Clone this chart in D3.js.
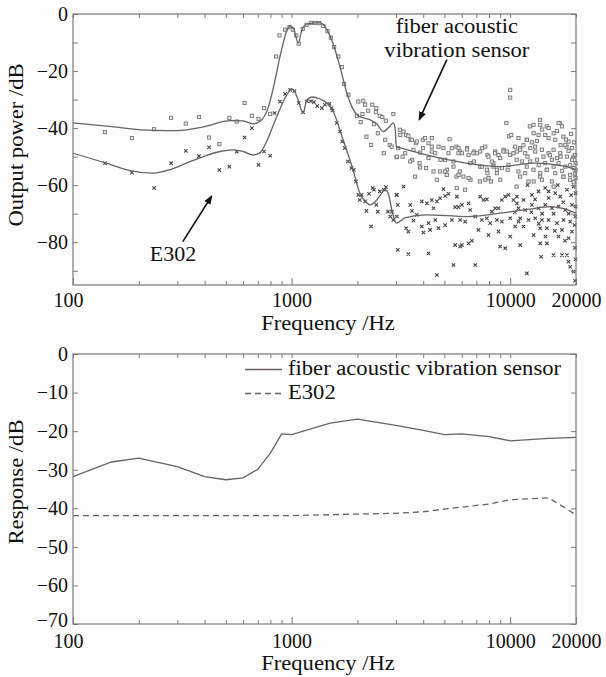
<!DOCTYPE html>
<html lang="en">
<head>
<meta charset="UTF-8" />
<title>Frequency response</title>
<style>
  body { margin: 0; background: #fdfdfd; }
  svg { display: block; }
  text { font-family: "Liberation Serif", "Times New Roman", serif; }
  .frame { fill: none; stroke: #7d7878; stroke-width: 1.2; }
  .tick line { stroke: #7d7878; stroke-width: 1; }
  .domain { display: none; }
  .tick text { font-size: 20px; fill: #111; font-family: "Liberation Serif", serif; }
  .fit { fill: none; stroke: #6a6262; stroke-width: 1.3; }
  .lbl { font-size: 20px; fill: #111; }
</style>
</head>
<body>
<div id="container"></div>
<script src="https://cdnjs.cloudflare.com/ajax/libs/d3/7.8.5/d3.min.js"></script>
<script>
// tick values
const freqTicks = [100, 1000, 10000, 20000];
const freqMinor = [200, 300, 400, 500, 600, 700, 800, 900, 2000, 3000, 4000, 5000, 6000, 7000, 8000, 9000];
const powerTicks = [0, -20, -40, -60, -80];
const powerMinor = [-10, -30, -50, -70, -90];
const respTicks = [0, -10, -20, -30, -40, -50, -60, -70];

// top chart: fitted curves [Hz, dB]
const fiberFit = [[100,-38.2],[150,-39.5],[232,-40.8],[300,-40.9],[400,-39.5],[524,-37.4],[600,-37.5],[667,-38.5],[720,-37.5],[780,-33],[821,-26.6],[900,-12.5],[950,-6],[984,-4.3],[1020,-5],[1073,-10.2],[1110,-6],[1170,-3.6],[1239,-3.2],[1330,-3.0],[1400,-3.8],[1450,-5.5],[1550,-10.5],[1663,-18.4],[1790,-27.7],[1900,-33],[1990,-35.3],[2150,-36.5],[2290,-37.1],[2450,-38.5],[2630,-41.2],[2800,-39.5],[2920,-38.2],[2980,-40.5],[3010,-46.5],[3240,-47.2],[4460,-50],[6000,-52],[9000,-53.5],[12800,-52.3],[16000,-52.8],[18100,-53.5],[20000,-54.6]];
const e302Fit = [[100,-48.8],[142,-52.3],[180,-54.8],[232,-55.8],[280,-54.5],[332,-52.2],[400,-49.8],[470,-48.2],[540,-47.6],[600,-48.2],[667,-49.4],[720,-48.5],[760,-45.5],[855,-36],[952,-28.3],[1000,-26.3],[1030,-27],[1070,-30],[1128,-34.7],[1175,-30.1],[1239,-29.1],[1350,-29.8],[1450,-31.2],[1550,-34.2],[1720,-44.1],[1910,-54.6],[2050,-62.8],[2200,-66],[2290,-66.9],[2400,-66],[2550,-63.5],[2680,-61.6],[2770,-63],[2900,-70],[3020,-73.3],[3300,-71.5],[4120,-70.4],[6350,-71],[9000,-69.8],[12000,-68.5],[15270,-67.5],[18000,-68.5],[20000,-69.8]];

// top chart: measured points [Hz, dB]
const fiberPts = [[140,-41.4],[186,-43.5],[235,-40.4],[281,-36.4],[328,-38.4],[377,-36.1],[419,-43.3],[467,-45.6],[519,-36.4],[561,-37.7],[609,-31.2],[658,-35.7],[706,-36.8],[748,-33],[798,-35],
[850,-14.9],[880,-7.5],[934,-5.5],[978,-4.6],[1013,-5.5],[1050,-7.5],[1078,-10.4],[1125,-5.2],[1170,-3.8],[1225,-3.1],[1282,-3.1],[1340,-3.2],[1397,-4.2],[1460,-6],[1512,-8.3],[1565,-11.6],[1637,-14.9],[1700,-18.6],[1739,-24.5],
[1820,-28.3],[2020,-30.7],[2170,-31.8],[2340,-31.8],[2240,-33.9],[1990,-35.7],[2110,-35.1],[2430,-34.4],[2530,-35.7],[2600,-36.1],[2920,-35.1],[2070,-37.9],[2380,-38.6],[2700,-37.4],[2480,-41.8],[2200,-43],[2680,-44.1],[2310,-45.9],[2810,-45.9],[2640,-48.8],[3020,-50.2],[3070,-47],
[2130,-30.4],[2440,-33],[2870,-46.5],[3130,-40.6],[3340,-42.4],[3500,-44.1],[3700,-45.3],[3990,-44.1],[4380,-43.5],[4380,-46.5],[3990,-47],[3560,-51.1],[3220,-50],[4800,-51.1],[5280,-43.9],[5680,-46.5],[5900,-48.2],[6350,-47],[6820,-48.2],[7450,-47],[7870,-49.4],[8530,-48.2],[9330,-47.6],[9000,-50.5],[5130,-54.6],[5500,-53.5],[5880,-55.2],[6820,-51.7],[7270,-53.5],[7870,-55.8],[8380,-52.3],[8690,-55.8],[9740,-54.6],[9870,-42.9],[9600,-38.2],[10000,-26.6],[10000,-29.3],[10700,-51.1],[11100,-47],[11900,-44.1],[12800,-41.8],[12300,-39.4],[13700,-37.1],[14700,-39.4],[15800,-41.8],[16900,-38.2],[17500,-43],[18100,-46.5],[19500,-50],[19900,-54.6],[18800,-58.1],[17500,-57],[15800,-60.5],[14700,-54.6],[13700,-57],[12800,-58.7],[11900,-53.5],[11100,-57],[10700,-60.5],[9000,-58.1],[8160,-58.7],[7270,-58.7],[6580,-58.1],[5680,-57],[5130,-56.4],[4460,-55.2],[4620,-58.1],[4120,-54],[3850,-52.3],
[3140,-42.4],[3250,-41.2],[3420,-42.7],[3550,-44.1],[3740,-44.7],[3310,-48.8],[3610,-47.6],[3870,-48.6],[4080,-43.5],[4230,-45.3],[4380,-48.2],[4540,-48.8],[4700,-46.5],[4950,-47],[5220,-48.8],[5410,-47],[5800,-48.8],[4230,-50.5],[5040,-51.1],[5500,-51.7],[3490,-51.7],[3870,-53.8],[3670,-57],[4780,-55.2],[5040,-55.2],[3030,-50],
[5800,-47],[6010,-48.8],[6340,-47.5],[6450,-49.4],[6790,-48.8],[7040,-48.8],[7290,-48.2],[7690,-46.5],[7960,-50],[8250,-51.7],[8540,-48.8],[8840,-49.4],[9320,-48.2],[9660,-48.2],[10000,-49.4],[10350,-48.8],[10730,-48.2],[6560,-52.3],[7420,-53.5],[7820,-54.6],[8390,-53.5],[8690,-54.6],[9160,-54],[9820,-52.9],[5800,-56.4],[6110,-57],[6450,-57.5],[7690,-58.1],[7960,-57.5],[5700,-61],[6220,-61.6],[10110,-42.4],[10540,-46.5],
[10910,-43.5],[11920,-44.1],[12780,-38.9],[13720,-38.9],[13480,-42.4],[14460,-42.4],[14980,-43.5],[16070,-44.1],[16640,-38.2],[17250,-39.4],[17860,-45.9],[18490,-44.7],[19170,-47],[19840,-49.4],[11110,-47.6],[11710,-48.8],[12350,-47],[13020,-48.2],[13970,-47.6],[14980,-48.8],[15790,-47.6],[16940,-48.8],[18180,-50],[19170,-51.1],[19900,-52.3],[11310,-51.7],[12350,-51.7],[13250,-51.1],[14460,-52.3],[15520,-51.1],[16640,-52.3],[17860,-53.5],[19490,-54],[10910,-55.2],[11710,-55.8],[12780,-54.6],[13720,-55.8],[14720,-54.6],[16070,-55.8],[17540,-57],[18820,-56.4],[19900,-57.5],[12130,-58.7],[13970,-58.1],[15520,-58.7],
[12570,-45],[13250,-44.5],[14000,-40.5],[15000,-40],[16360,-41],[17000,-46],[18500,-48],[19000,-42],[19600,-45],[12000,-50],[13500,-53],[15200,-49.5],[16360,-50.5],[17250,-55],[18825,-53],[19500,-59],[11500,-46],[13000,-46.5],[14200,-50],[15800,-53.5],[17000,-50],[18000,-44],[19800,-56]];

const e302Pts = [[140,-52.3],[186,-55.6],[235,-61],[281,-52.3],[328,-48],[377,-49.8],[419,-46.7],[467,-54.7],[519,-53.5],[561,-48.3],[609,-43.3],[658,-40],[706,-52.9],[748,-48.2],[798,-49.7],
[836,-34.7],[885,-30.7],[934,-28],[985,-26.6],[1030,-27],[1078,-31.2],[1128,-34.4],[1175,-30.6],[1225,-30.6],[1265,-30.9],[1310,-32.3],[1375,-33],[1420,-31.8],[1490,-31.5],[1540,-33.8],
[1525,-33],[1610,-38.2],[1665,-41.2],[1705,-44.7],[1750,-47],[1810,-51.7],[1880,-54],[1925,-54.6],[1970,-58.7],[2020,-63.4],[2090,-63.4],[2050,-65.2],[2170,-65.7],[2200,-69],[2350,-61],[2380,-61.6],[2260,-63],[2440,-66.9],[2530,-62.2],[2640,-61.6],[2700,-60.7],[2480,-69.3],[2310,-74.5],[2760,-69.3],[2830,-71],[2920,-72.2],[2880,-69.3],[3020,-63.4],[3060,-66.9],
[3030,-63.4],[3250,-60.5],[3490,-66.9],[3550,-69],[3740,-70.4],[3940,-65.7],[4160,-66.4],[4380,-65.2],[4620,-65.7],[4780,-64.6],[5040,-63.8],[5220,-63],[4950,-61.4],[5700,-64],[5600,-67.7],[4460,-68.1],[4540,-72.2],[4230,-73.3],[3940,-74.5],[4300,-75.7],[4700,-75.1],[3340,-75.1],[3420,-76.3],[4010,-76.6],[3060,-82.7],[3420,-84.2],[4230,-83.9],[4620,-91.5],[5500,-88],[5600,-81],[5900,-81.5],[3030,-71],[3610,-72.4],[5040,-74],[5410,-72.2],[5800,-67.7],
[6010,-66.9],[6450,-66.4],[6560,-68.7],[7290,-64],[7550,-65.2],[7820,-65],[8250,-69.3],[8540,-68.1],[8840,-68.1],[9160,-65.2],[9490,-64],[9820,-63.4],[10350,-65.2],[10730,-66.4],[5900,-72.2],[6220,-72.8],[6920,-71],[7420,-72.2],[7820,-71.6],[8100,-73.3],[8690,-72.2],[9160,-72.8],[10000,-71.6],[10910,-72.8],[7160,-75.7],[7960,-77.5],[8840,-76.3],[10540,-74.5],[6010,-81],[6450,-80.4],[6680,-79.5],[9000,-81.5],[9490,-82.1],[10000,-78],[6920,-88],
[10730,-64],[11500,-65.2],[12570,-63.4],[13480,-62.2],[14460,-61],[14980,-62.2],[16070,-62.8],[16940,-64],[18180,-61.6],[19490,-60.5],[19900,-62.8],[10910,-68.1],[11710,-68.7],[12570,-66.9],[13480,-68.1],[14460,-66.9],[15520,-68.1],[16640,-67.5],[17860,-68.7],[19170,-66.9],[19900,-67.5],[11110,-71.6],[12130,-72.2],[13020,-71.6],[13970,-72.2],[14980,-72.2],[16360,-73.3],[17540,-72.2],[18820,-72.8],[19840,-71],[13720,-75.1],[14720,-75.1],[17250,-75.7],[19170,-76.3],[16640,-78],[18490,-78.6],[11110,-81],[13720,-80.4],[14720,-80.4],[17250,-84.5],[18180,-84.5],[18490,-86.8],[18820,-88.6],[19490,-90.3],[15790,-84.5],[11920,-90.9],[13850,-85.1],
[12000,-60],[13000,-65],[14000,-70],[15000,-64.5],[15800,-70],[16500,-60],[17500,-66],[18500,-70],[19000,-63.5],[19700,-74],[12500,-69.5],[13500,-73.5],[14500,-78],[16000,-76],[17800,-79.5],[19800,-82],[19900,-86],[11500,-74.5],[10500,-69.5],[12800,-77.5],[19800,-93.5]];

// bottom chart: response [Hz] / [dB]
const respFreq = [100,150,200,300,400,500,600,700,800,900,1000,1500,2000,3000,4000,5000,6000,8000,10000,15000,20000];
const fiberResp = [-31.8,-28.0,-27.0,-29.2,-31.8,-32.6,-32.1,-29.9,-25.7,-20.7,-20.9,-17.9,-16.9,-18.5,-19.8,-20.9,-20.7,-21.4,-22.5,-21.9,-21.6];
const e302Freq = [100,200,500,1000,2000,3000,4000,5000,6000,8000,10000,15000,20000];
const e302Resp = [-41.9,-41.9,-41.9,-41.9,-41.5,-41.3,-40.9,-40.2,-39.7,-38.9,-37.8,-37.3,-41.7];

const width = 606, height = 677;
const left = 73, right = 576;
const svg = d3.select("#container").append("svg").attr("width", width).attr("height", height);

svg.append("defs").append("marker")
  .attr("id", "arrow").attr("viewBox", "0 0 10 10").attr("refX", 9).attr("refY", 5)
  .attr("markerWidth", 9).attr("markerHeight", 9).attr("orient", "auto-start-reverse")
  .attr("markerUnits", "userSpaceOnUse")
  .append("path").attr("d", "M0,1 L10,5 L0,9 Z").attr("fill", "#111");

function wide(sel, k) {
  sel.each(function () {
    const L = this.getComputedTextLength();
    d3.select(this).attr("textLength", L * k).attr("lengthAdjust", "spacingAndGlyphs");
  });
}

function axes(g, x, y, yMajor, yMinor, top, bottom, xPad) {
  const fmt = d3.format("d");
  g.append("g").attr("transform", `translate(0,${bottom})`)
    .call(d3.axisBottom(x).tickValues(freqTicks).tickSize(-7).tickPadding(xPad).tickFormat(fmt))
    .call(s => s.selectAll(".tick").filter(d => d === 100).select("text").attr("dx", -5));
  g.append("g").attr("transform", `translate(0,${bottom})`)
    .call(d3.axisBottom(x).tickValues(freqMinor).tickSize(-4).tickFormat(""));
  g.append("g").attr("transform", `translate(0,${top})`)
    .call(d3.axisTop(x).tickValues(freqTicks.concat(freqMinor)).tickSize(-4).tickFormat(""));
  g.append("g").attr("transform", `translate(${left},0)`)
    .call(d3.axisLeft(y).tickValues(yMajor).tickSize(-5).tickPadding(5).tickFormat(fmt))
    .call(s => s.selectAll(".tick").filter(d => d === y.domain()[0]).select("text").attr("dy", "0.1em"));
  g.append("g").attr("transform", `translate(${right},0)`)
    .call(d3.axisRight(y).tickValues(yMajor.concat(yMinor)).tickSize(-5).tickFormat(""));
  if (yMinor.length) {
    g.append("g").attr("transform", `translate(${left},0)`)
      .call(d3.axisLeft(y).tickValues(yMinor).tickSize(-5).tickFormat(""));
  }
  g.append("rect").attr("class", "frame")
    .attr("x", left).attr("y", top).attr("width", right - left).attr("height", bottom - top);
}

// ---------- top chart ----------
const t = { top: 14, bottom: 285 };
const x1 = d3.scaleLog().domain([100, 20000]).range([left, right]);
const y1 = d3.scaleLinear().domain([-95, 0]).range([t.bottom, t.top]);
const g1 = svg.append("g");

const fitLine = d3.line().x(d => x1(d[0])).y(d => y1(d[1])).curve(d3.curveMonotoneX);

g1.append("g").selectAll("rect").data(fiberPts).join("rect")
  .attr("x", d => x1(d[0]) - 1.6).attr("y", d => y1(d[1]) - 1.6)
  .attr("width", 3.2).attr("height", 3.2)
  .attr("fill", "#e8e6e6").attr("stroke", "#777").attr("stroke-width", 0.9);

const cross = d3.symbol().type(d3.symbolX).size(9);
g1.append("g").selectAll("path").data(e302Pts).join("path")
  .attr("d", cross)
  .attr("transform", d => `translate(${x1(d[0])},${y1(d[1])})`)
  .attr("fill", "none").attr("stroke", "#4a4444").attr("stroke-width", 1.1);

g1.append("path").attr("class", "fit").attr("d", fitLine(fiberFit));
g1.append("path").attr("class", "fit").attr("d", fitLine(e302Fit));

axes(g1, x1, y1, powerTicks, powerMinor, t.top, t.bottom, 8);

// annotations
g1.append("line")
  .attr("x1", x1(5132)).attr("y1", y1(-16)).attr("x2", x1(3833)).attr("y2", y1(-37.1))
  .attr("stroke", "#111").attr("stroke-width", 1.6).attr("marker-end", "url(#arrow)");
g1.append("line")
  .attr("x1", x1(318)).attr("y1", y1(-79.8)).attr("x2", x1(431)).attr("y2", y1(-63.8))
  .attr("stroke", "#111").attr("stroke-width", 1.6).attr("marker-end", "url(#arrow)");
g1.append("text").attr("class", "lbl").attr("text-anchor", "middle")
  .attr("x", x1(5702)).attr("y", 33).text("fiber acoustic").call(wide, 1.13);
g1.append("text").attr("class", "lbl").attr("text-anchor", "middle")
  .attr("x", x1(5702)).attr("y", 56.5).text("vibration sensor").call(wide, 1.13);
g1.append("text").attr("class", "lbl").attr("text-anchor", "middle")
  .attr("x", x1(287)).attr("y", 261).text("E302").call(wide, 1.1);

g1.append("text").attr("class", "lbl").attr("text-anchor", "middle")
  .attr("x", 328).attr("y", 330).text("Frequency /Hz").call(wide, 1.13);
g1.append("text").attr("class", "lbl").attr("text-anchor", "middle")
  .attr("transform", "translate(23,145) rotate(-90)").text("Output power /dB").call(wide, 1.13);

// ---------- bottom chart ----------
const b = { top: 354, bottom: 624 };
const x2 = d3.scaleLog().domain([100, 20000]).range([left, right]);
const y2 = d3.scaleLinear().domain([-70, 0]).range([b.bottom, b.top]);
const g2 = svg.append("g");

const respLine = d3.line().x(d => x2(d[0])).y(d => y2(d[1]));
g2.append("path").attr("class", "fit")
  .attr("d", respLine(respFreq.map((f, i) => [f, fiberResp[i]])));
g2.append("path").attr("class", "fit").attr("stroke-dasharray", "6,4")
  .attr("d", respLine(e302Freq.map((f, i) => [f, e302Resp[i]])));

axes(g2, x2, y2, respTicks, [], b.top, b.bottom, 10);

// legend
const legend = g2.append("g");
[["fiber acoustic vibration sensor", null, 369.5], ["E302", "6,4", 393.5]].forEach(([name, dash, ly]) => {
  legend.append("line").attr("x1", 245).attr("x2", 282).attr("y1", ly).attr("y2", ly)
    .attr("stroke", "#6a6262").attr("stroke-width", 1.3).attr("stroke-dasharray", dash);
  legend.append("text").attr("class", "lbl").attr("x", 288).attr("y", ly + 5.5).text(name).call(wide, 1.13);
});

g2.append("text").attr("class", "lbl").attr("text-anchor", "middle")
  .attr("x", 328).attr("y", 670).text("Frequency /Hz").call(wide, 1.13);
g2.append("text").attr("class", "lbl").attr("text-anchor", "middle")
  .attr("transform", "translate(23,482) rotate(-90)").text("Response /dB").call(wide, 1.13);
</script>
</body>
</html>
